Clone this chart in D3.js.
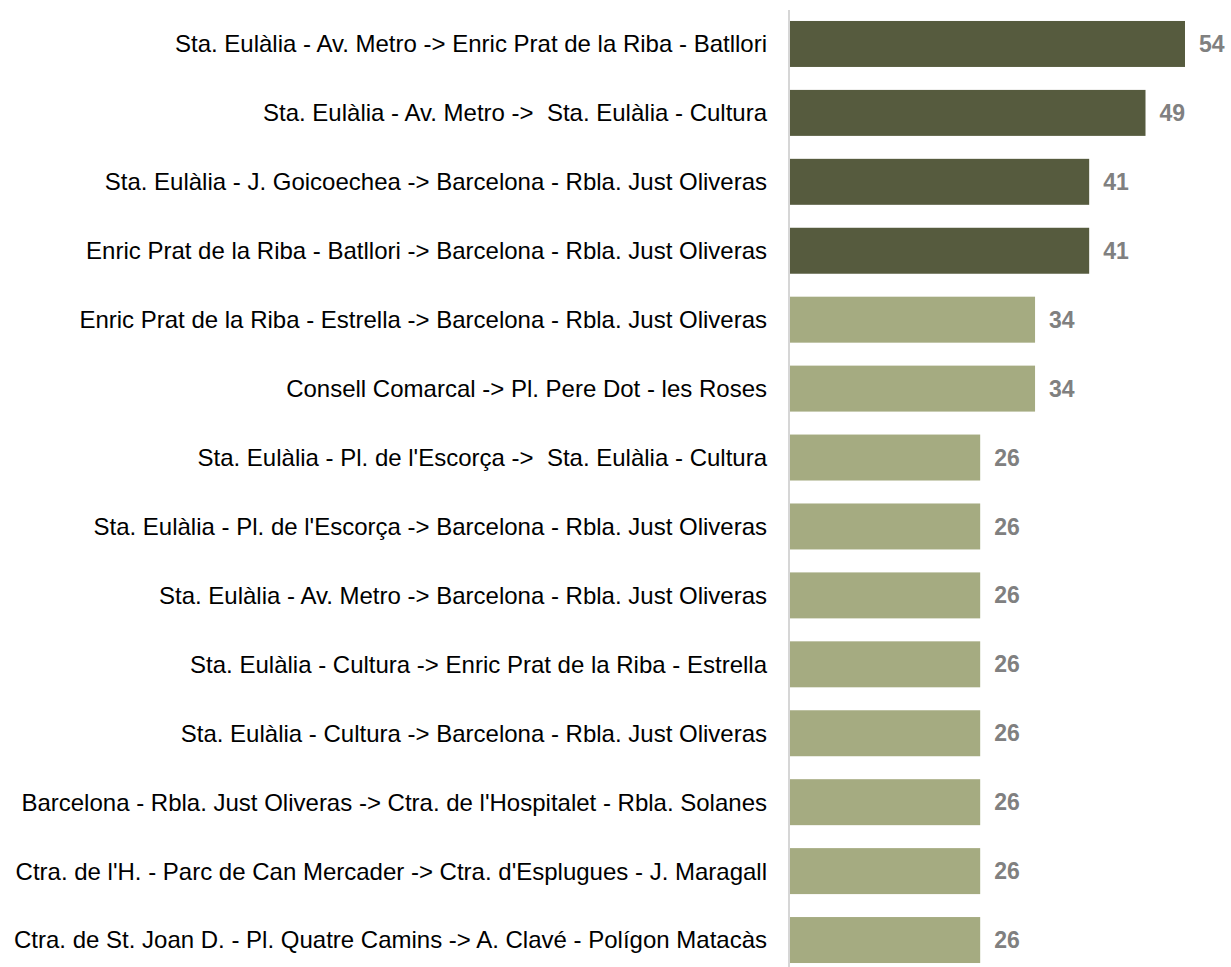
<!DOCTYPE html>
<html><head><meta charset="utf-8">
<script src="https://cdn.jsdelivr.net/npm/d3@7"></script>
<style>
html,body{margin:0;padding:0;background:#fff;}
text{white-space:pre;}
</style></head>
<body>
<svg id="chart" width="1231" height="967"></svg>
<script>
const categories = [
  "Sta. Eulàlia - Av. Metro -> Enric Prat de la Riba - Batllori",
  "Sta. Eulàlia - Av. Metro ->  Sta. Eulàlia - Cultura",
  "Sta. Eulàlia - J. Goicoechea -> Barcelona - Rbla. Just Oliveras",
  "Enric Prat de la Riba - Batllori -> Barcelona - Rbla. Just Oliveras",
  "Enric Prat de la Riba - Estrella -> Barcelona - Rbla. Just Oliveras",
  "Consell Comarcal -> Pl. Pere Dot - les Roses",
  "Sta. Eulàlia - Pl. de l'Escorça ->  Sta. Eulàlia - Cultura",
  "Sta. Eulàlia - Pl. de l'Escorça -> Barcelona - Rbla. Just Oliveras",
  "Sta. Eulàlia - Av. Metro -> Barcelona - Rbla. Just Oliveras",
  "Sta. Eulàlia - Cultura -> Enric Prat de la Riba - Estrella",
  "Sta. Eulàlia - Cultura -> Barcelona - Rbla. Just Oliveras",
  "Barcelona - Rbla. Just Oliveras -> Ctra. de l'Hospitalet - Rbla. Solanes",
  "Ctra. de l'H. - Parc de Can Mercader -> Ctra. d'Esplugues - J. Maragall",
  "Ctra. de St. Joan D. - Pl. Quatre Camins -> A. Clavé - Polígon Matacàs"
];
// values (labels show them rounded)
const values = [54, 48.6, 40.9, 40.9, 33.5, 33.5, 26, 26, 26, 26, 26, 26, 26, 26];
const groups = ["top","top","top","top","rest","rest","rest","rest","rest","rest","rest","rest","rest","rest"];

const colorMap = {top: "#565b3e", rest: "#a5ab81"};
const svg = d3.select("#chart");
const axisX = 789;
const x = d3.scaleLinear().domain([0, 54]).range([axisX + 1, 1185]);
const y = d3.scaleBand().domain(categories).range([9.5, 974.5]).paddingInner(0.333).paddingOuter(0.1665);

svg.selectAll("rect.bar").data(values).join("rect")
  .attr("class","bar")
  .attr("x", x(0))
  .attr("y", (d,i) => y(categories[i]))
  .attr("width", d => x(d) - x(0))
  .attr("height", y.bandwidth())
  .attr("fill", (d,i) => colorMap[groups[i]]);

svg.append("line")
  .attr("x1", axisX).attr("x2", axisX)
  .attr("y1", 10).attr("y2", 967)
  .attr("stroke", "#c8c8c8").attr("stroke-width", 1.5);

svg.selectAll("text.cat").data(categories).join("text")
  .attr("class","cat")
  .attr("x", 767)
  .attr("y", d => y(d) + y.bandwidth()/2)
  .attr("dy", "0.35em")
  .attr("text-anchor", "end")
  .attr("font-family", "Liberation Sans, Arial, sans-serif")
  .attr("font-size", 24)
  .attr("fill", "#000")
  .text(d => d);

svg.selectAll("text.val").data(values).join("text")
  .attr("class","val")
  .attr("x", d => x(d) + 14)
  .attr("y", (d,i) => y(categories[i]) + y.bandwidth()/2)
  .attr("dy", "0.35em")
  .attr("font-family", "Liberation Sans, Arial, sans-serif")
  .attr("font-weight", "bold")
  .attr("font-size", 23)
  .attr("fill", "#808080")
  .text(d => Math.round(d));
</script>
</body></html>
